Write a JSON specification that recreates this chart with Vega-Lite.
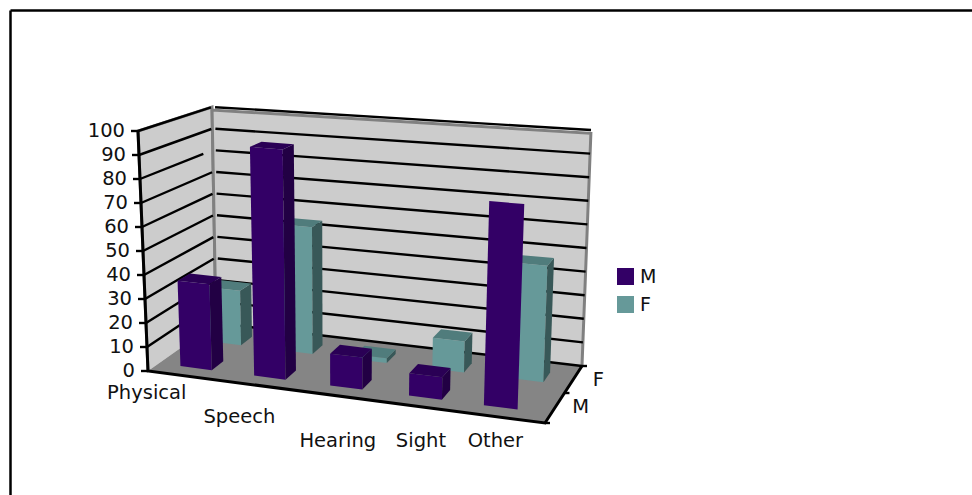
{
  "$schema": "https://vega.github.io/schema/vega-lite/v6.json",
  "autosize": {"type": "none"},
  "padding": {"left": 10, "top": 10, "right": 0, "bottom": 0},
  "width": 962,
  "height": 485,
  "background": "white",
  "config": {"view": {"stroke": null}},
  "datasets": {
    "bars": [
      {"category": "Physical", "series": "F", "value": 24},
      {"category": "Speech", "series": "F", "value": 55},
      {"category": "Hearing", "series": "F", "value": 2},
      {"category": "Sight", "series": "F", "value": 13},
      {"category": "Other", "series": "F", "value": 48},
      {"category": "Physical", "series": "M", "value": 36},
      {"category": "Speech", "series": "M", "value": 95},
      {"category": "Hearing", "series": "M", "value": 13},
      {"category": "Sight", "series": "M", "value": 9},
      {"category": "Other", "series": "M", "value": 81}
    ],
    "levels": [
      {"level": 0}, {"level": 10}, {"level": 20}, {"level": 30}, {"level": 40}, {"level": 50},
      {"level": 60}, {"level": 70}, {"level": 80}, {"level": 90}, {"level": 100}
    ],
    "walls": [{"surface": "Left wall"}, {"surface": "Back wall"}],
    "floor": [{"surface": "Floor"}],
    "outline": [{"axis": "Value and category and series axis lines"}],
    "seriesRows": [{"series": "M", "boundary": 0.26}, {"series": "F", "boundary": 0.74}],
    "depthTicks": [{"boundary": 0}, {"boundary": 0.526}, {"boundary": 1}]
  },
  "encoding": {
    "x": {
      "field": "px", "type": "quantitative",
      "scale": {"domain": [10, 972], "range": [0, 962], "nice": false, "zero": false},
      "axis": {"orient": "top", "title": null, "labels": false, "ticks": false, "grid": false, "domainColor": "#000000", "domainWidth": 2.5}
    },
    "y": {
      "field": "py", "type": "quantitative",
      "scale": {"domain": [10, 495], "range": [0, 485], "nice": false, "zero": false},
      "axis": {"orient": "left", "title": null, "labels": false, "ticks": false, "grid": false, "domainColor": "#000000", "domainWidth": 2.5}
    }
  },
  "layer": [
    {
      "description": "Left and back walls of the 3D box",
      "data": {"name": "walls"},
      "transform": [
        {"calculate": "datum.surface=='Left wall'?[{i:0,u:0,d:0,h:0},{i:1,u:0,d:0,h:100},{i:2,u:0,d:1,h:100},{i:3,u:0,d:1,h:0}]:[{i:0,u:0,d:1,h:0},{i:1,u:0,d:1,h:98.6},{i:2,u:1,d:1,h:98.6},{i:3,u:1,d:1,h:0}]", "as": "corner"},
        {"flatten": ["corner"]},
        {"calculate": "datum.corner.u", "as": "u"},
        {"calculate": "datum.corner.d", "as": "d"},
        {"calculate": "datum.corner.h", "as": "h"},
        {"calculate": "datum.corner.i", "as": "i"},
        {"calculate": "(1-datum.u)*(1-datum.d)*(148-10*datum.h/100)+datum.u*(1-datum.d)*(545+10*datum.h/100)+(1-datum.u)*datum.d*(216-4*datum.h/100)+datum.u*datum.d*(582+9*datum.h/100)", "as": "px"},
        {"calculate": "(1-datum.u)*(1-datum.d)*(371-240*datum.h/100)+datum.u*(1-datum.d)*(423-259*datum.h/100)+(1-datum.u)*datum.d*(323-216*datum.h/100)+datum.u*datum.d*(366-236*datum.h/100)", "as": "py"}
      ],
      "mark": {"type": "line", "fill": "#cccccc", "stroke": "#808080", "strokeWidth": 3, "strokeJoin": "miter"},
      "encoding": {"detail": {"field": "surface"}, "order": {"field": "i", "type": "quantitative"}}
    },
    {
      "description": "Floor of the 3D box",
      "data": {"name": "floor"},
      "transform": [
        {"calculate": "[{i:0,u:0,d:0},{i:1,u:1,d:0},{i:2,u:1,d:1},{i:3,u:0,d:1}]", "as": "corner"},
        {"flatten": ["corner"]},
        {"calculate": "datum.corner.u", "as": "u"},
        {"calculate": "datum.corner.d", "as": "d"},
        {"calculate": "0", "as": "h"},
        {"calculate": "datum.corner.i", "as": "i"},
        {"calculate": "(1-datum.u)*(1-datum.d)*(148-10*datum.h/100)+datum.u*(1-datum.d)*(545+10*datum.h/100)+(1-datum.u)*datum.d*(216-4*datum.h/100)+datum.u*datum.d*(582+9*datum.h/100)", "as": "px"},
        {"calculate": "(1-datum.u)*(1-datum.d)*(371-240*datum.h/100)+datum.u*(1-datum.d)*(423-259*datum.h/100)+(1-datum.u)*datum.d*(323-216*datum.h/100)+datum.u*datum.d*(366-236*datum.h/100)", "as": "py"}
      ],
      "mark": {"type": "line", "fill": "#858585", "stroke": "#858585", "strokeWidth": 1},
      "encoding": {"detail": {"field": "surface"}, "order": {"field": "i", "type": "quantitative"}}
    },
    {
      "description": "Gridlines on both walls; the 80 line on the left wall stops short of the corner",
      "data": {"name": "levels"},
      "transform": [
        {"calculate": "[{wall:'left',i:0,u:0,d:0},{wall:'left',i:1,u:0,d:datum.level==80?0.87:0.985},{wall:'back',i:0,u:0.008,d:1},{wall:'back',i:1,u:1,d:1}]", "as": "corner"},
        {"flatten": ["corner"]},
        {"filter": "datum.level>0||datum.corner.wall=='back'"},
        {"calculate": "datum.corner.u", "as": "u"},
        {"calculate": "datum.corner.d", "as": "d"},
        {"calculate": "datum.level", "as": "h"},
        {"calculate": "datum.corner.i", "as": "i"},
        {"calculate": "datum.corner.wall+datum.level", "as": "segment"},
        {"calculate": "(1-datum.u)*(1-datum.d)*(148-10*datum.h/100)+datum.u*(1-datum.d)*(545+10*datum.h/100)+(1-datum.u)*datum.d*(216-4*datum.h/100)+datum.u*datum.d*(582+9*datum.h/100)", "as": "px"},
        {"calculate": "(1-datum.u)*(1-datum.d)*(371-240*datum.h/100)+datum.u*(1-datum.d)*(423-259*datum.h/100)+(1-datum.u)*datum.d*(323-216*datum.h/100)+datum.u*datum.d*(366-236*datum.h/100)", "as": "py"}
      ],
      "mark": {"type": "line", "stroke": "#000000", "strokeWidth": 2.4},
      "encoding": {"detail": {"field": "segment"}, "order": {"field": "i", "type": "quantitative"}}
    },
    {
      "description": "Axis lines along the value, category and series directions",
      "data": {"name": "outline"},
      "transform": [
        {"calculate": "[{i:0,u:0,d:0,h:100},{i:1,u:0,d:0,h:0},{i:2,u:1,d:0,h:0},{i:3,u:1,d:1,h:0}]", "as": "corner"},
        {"flatten": ["corner"]},
        {"calculate": "datum.corner.u", "as": "u"},
        {"calculate": "datum.corner.d", "as": "d"},
        {"calculate": "datum.corner.h", "as": "h"},
        {"calculate": "datum.corner.i", "as": "i"},
        {"calculate": "(1-datum.u)*(1-datum.d)*(148-10*datum.h/100)+datum.u*(1-datum.d)*(545+10*datum.h/100)+(1-datum.u)*datum.d*(216-4*datum.h/100)+datum.u*datum.d*(582+9*datum.h/100)", "as": "px"},
        {"calculate": "(1-datum.u)*(1-datum.d)*(371-240*datum.h/100)+datum.u*(1-datum.d)*(423-259*datum.h/100)+(1-datum.u)*datum.d*(323-216*datum.h/100)+datum.u*datum.d*(366-236*datum.h/100)", "as": "py"}
      ],
      "mark": {"type": "line", "stroke": "#000000", "strokeWidth": 3, "strokeJoin": "miter"},
      "encoding": {"order": {"field": "i", "type": "quantitative"}}
    },
    {
      "description": "Value axis ticks",
      "data": {"name": "levels"},
      "transform": [
        {"calculate": "0", "as": "u"},
        {"calculate": "0", "as": "d"},
        {"calculate": "datum.level", "as": "h"},
        {"calculate": "(1-datum.u)*(1-datum.d)*(148-10*datum.h/100)+datum.u*(1-datum.d)*(545+10*datum.h/100)+(1-datum.u)*datum.d*(216-4*datum.h/100)+datum.u*datum.d*(582+9*datum.h/100)", "as": "px"},
        {"calculate": "(1-datum.u)*(1-datum.d)*(371-240*datum.h/100)+datum.u*(1-datum.d)*(423-259*datum.h/100)+(1-datum.u)*datum.d*(323-216*datum.h/100)+datum.u*datum.d*(366-236*datum.h/100)", "as": "py"},
        {"calculate": "datum.px-7", "as": "tickEnd"}
      ],
      "mark": {"type": "rule", "stroke": "#000000", "strokeWidth": 2.4},
      "encoding": {"x2": {"field": "tickEnd"}}
    },
    {
      "description": "Series axis ticks",
      "data": {"name": "depthTicks"},
      "transform": [
        {"calculate": "1", "as": "u"},
        {"calculate": "datum.boundary", "as": "d"},
        {"calculate": "0", "as": "h"},
        {"calculate": "(1-datum.u)*(1-datum.d)*(148-10*datum.h/100)+datum.u*(1-datum.d)*(545+10*datum.h/100)+(1-datum.u)*datum.d*(216-4*datum.h/100)+datum.u*datum.d*(582+9*datum.h/100)", "as": "px"},
        {"calculate": "(1-datum.u)*(1-datum.d)*(371-240*datum.h/100)+datum.u*(1-datum.d)*(423-259*datum.h/100)+(1-datum.u)*datum.d*(323-216*datum.h/100)+datum.u*datum.d*(366-236*datum.h/100)", "as": "py"},
        {"calculate": "datum.px+5", "as": "tickEnd"}
      ],
      "mark": {"type": "rule", "stroke": "#000000", "strokeWidth": 2.4},
      "encoding": {"x2": {"field": "tickEnd"}}
    },
    {
      "description": "Front, side and top faces of each bar, back row first; the tallest front-row bar on the right shows its front face only",
      "data": {"name": "bars"},
      "transform": [
        {"calculate": "indexof(['Physical','Speech','Hearing','Sight','Other'],datum.category)", "as": "slot"},
        {"calculate": "datum.series=='M'?[0.095,0.283,0.478,0.68,0.872][datum.slot]:[0.086,0.276,0.473,0.678,0.889][datum.slot]", "as": "centre"},
        {"calculate": "datum.series=='M'?[0.04,0.04,0.041,0.042,0.043][datum.slot]:0.042", "as": "half"},
        {"calculate": "datum.centre-datum.half", "as": "u1"},
        {"calculate": "datum.centre+datum.half", "as": "u2"},
        {"calculate": "datum.series=='M'?0.16:0.66", "as": "d1"},
        {"calculate": "datum.series=='M'?0.34:0.83", "as": "d2"},
        {"calculate": "[{face:'front',i:0,u:datum.u1,d:datum.d1,h:0},{face:'front',i:1,u:datum.u2,d:datum.d1,h:0},{face:'front',i:2,u:datum.u2,d:datum.d1,h:datum.value},{face:'front',i:3,u:datum.u1,d:datum.d1,h:datum.value},{face:'side',i:0,u:datum.u2,d:datum.d1,h:0},{face:'side',i:1,u:datum.u2,d:datum.d2,h:0},{face:'side',i:2,u:datum.u2,d:datum.d2,h:datum.value},{face:'side',i:3,u:datum.u2,d:datum.d1,h:datum.value},{face:'top',i:0,u:datum.u1,d:datum.d1,h:datum.value},{face:'top',i:1,u:datum.u2,d:datum.d1,h:datum.value},{face:'top',i:2,u:datum.u2,d:datum.d2,h:datum.value},{face:'top',i:3,u:datum.u1,d:datum.d2,h:datum.value}]", "as": "corner"},
        {"flatten": ["corner"]},
        {"filter": "datum.corner.face=='front'||datum.series!='M'||datum.category!='Other'"},
        {"calculate": "datum.corner.u", "as": "u"},
        {"calculate": "datum.corner.d", "as": "d"},
        {"calculate": "datum.corner.h", "as": "h"},
        {"calculate": "datum.corner.i", "as": "i"},
        {"calculate": "datum.corner.face=='front'?datum.series:datum.series+' '+datum.corner.face", "as": "shade"},
        {"calculate": "datum.series+datum.category+datum.corner.face", "as": "polygon"},
        {"calculate": "(1-datum.u)*(1-datum.d)*(148-10*datum.h/100)+datum.u*(1-datum.d)*(545+10*datum.h/100)+(1-datum.u)*datum.d*(216-4*datum.h/100)+datum.u*datum.d*(582+9*datum.h/100)", "as": "px"},
        {"calculate": "(1-datum.u)*(1-datum.d)*(371-240*datum.h/100)+datum.u*(1-datum.d)*(423-259*datum.h/100)+(1-datum.u)*datum.d*(323-216*datum.h/100)+datum.u*datum.d*(366-236*datum.h/100)", "as": "py"}
      ],
      "mark": {"type": "line", "strokeWidth": 0},
      "encoding": {
        "detail": {"field": "polygon"},
        "order": {"field": "i", "type": "quantitative"},
        "fill": {
          "field": "shade", "type": "nominal",
          "scale": {
            "domain": ["M", "F", "M side", "F side", "M top", "F top"],
            "range": ["#330066", "#669999", "#220044", "#385858", "#2a0055", "#507c7c"]
          },
          "legend": {
            "values": ["M", "F"], "title": null, "orient": "none", "legendX": 606, "legendY": 257,
            "symbolType": "square", "symbolSize": 289, "symbolStrokeWidth": 0, "rowPadding": 8,
            "labelFont": "DejaVu Sans", "labelFontSize": 19, "labelColor": "#111111", "labelOffset": 5
          }
        }
      }
    },
    {
      "description": "Value axis labels",
      "data": {"name": "levels"},
      "transform": [
        {"calculate": "0", "as": "u"},
        {"calculate": "0", "as": "d"},
        {"calculate": "datum.level", "as": "h"},
        {"calculate": "(1-datum.u)*(1-datum.d)*(148-10*datum.h/100)+datum.u*(1-datum.d)*(545+10*datum.h/100)+(1-datum.u)*datum.d*(216-4*datum.h/100)+datum.u*datum.d*(582+9*datum.h/100)", "as": "px"},
        {"calculate": "(1-datum.u)*(1-datum.d)*(371-240*datum.h/100)+datum.u*(1-datum.d)*(423-259*datum.h/100)+(1-datum.u)*datum.d*(323-216*datum.h/100)+datum.u*datum.d*(366-236*datum.h/100)", "as": "py"}
      ],
      "mark": {"type": "text", "font": "DejaVu Sans", "fontSize": 19.5, "align": "right", "baseline": "middle", "dx": -13, "color": "#111111"},
      "encoding": {"text": {"field": "level"}}
    },
    {
      "description": "Category labels, staggered over three rows under the front edge",
      "data": {"name": "bars"},
      "transform": [
        {"filter": "datum.series=='M'"},
        {"calculate": "indexof(['Physical','Speech','Hearing','Sight','Other'],datum.category)", "as": "slot"},
        {"calculate": "[0.095,0.283,0.478,0.68,0.875][datum.slot]", "as": "u"},
        {"calculate": "0", "as": "d"},
        {"calculate": "0", "as": "h"},
        {"calculate": "(1-datum.u)*(1-datum.d)*(148-10*datum.h/100)+datum.u*(1-datum.d)*(545+10*datum.h/100)+(1-datum.u)*datum.d*(216-4*datum.h/100)+datum.u*datum.d*(582+9*datum.h/100)+[-39,-21,0,3,0][datum.slot]", "as": "px"},
        {"calculate": "393+24*[0,1,2,2,2][datum.slot]", "as": "py"}
      ],
      "mark": {"type": "text", "font": "DejaVu Sans", "fontSize": 19.5, "align": "center", "baseline": "middle", "color": "#111111"},
      "encoding": {"text": {"field": "category"}}
    },
    {
      "description": "Series axis labels",
      "data": {"name": "seriesRows"},
      "transform": [
        {"calculate": "1", "as": "u"},
        {"calculate": "datum.boundary", "as": "d"},
        {"calculate": "0", "as": "h"},
        {"calculate": "(1-datum.u)*(1-datum.d)*(148-10*datum.h/100)+datum.u*(1-datum.d)*(545+10*datum.h/100)+(1-datum.u)*datum.d*(216-4*datum.h/100)+datum.u*datum.d*(582+9*datum.h/100)", "as": "px"},
        {"calculate": "(1-datum.u)*(1-datum.d)*(371-240*datum.h/100)+datum.u*(1-datum.d)*(423-259*datum.h/100)+(1-datum.u)*datum.d*(323-216*datum.h/100)+datum.u*datum.d*(366-236*datum.h/100)", "as": "py"}
      ],
      "mark": {"type": "text", "font": "DejaVu Sans", "fontSize": 19.5, "align": "center", "baseline": "middle", "dx": 26, "dy": -1, "color": "#111111"},
      "encoding": {"text": {"field": "series"}}
    }
  ]
}
